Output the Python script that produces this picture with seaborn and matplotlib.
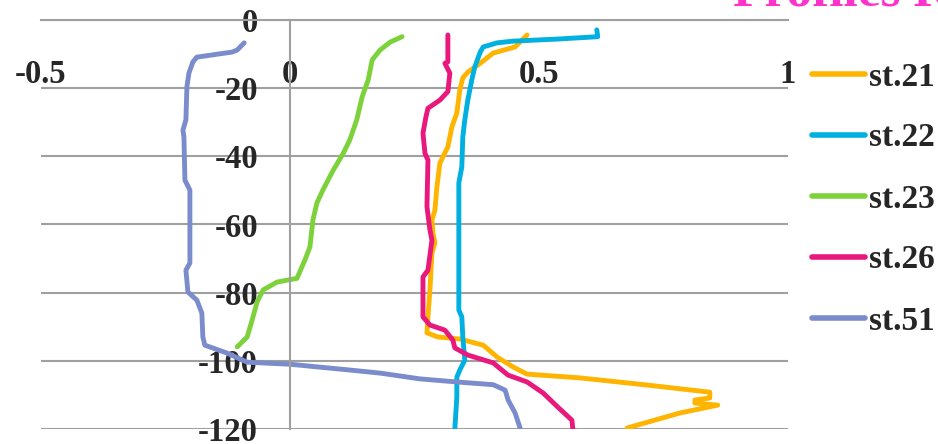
import matplotlib
matplotlib.use("Agg")
import matplotlib.pyplot as plt
import seaborn as sns
import pandas as pd

# Vertical profiles: value (x) against depth (m, negative downwards)
st21_x = [0.476, 0.452, 0.408, 0.382, 0.357, 0.347, 0.341, 0.335, 0.325, 0.317, 0.307, 0.301,
          0.295, 0.291, 0.285, 0.287, 0.291, 0.285, 0.281, 0.277, 0.275, 0.297, 0.341, 0.388,
          0.416, 0.448, 0.476, 0.582, 0.717, 0.843, 0.843, 0.813, 0.813, 0.859, 0.783, 0.677]
st21_d = [-4.4, -7.9, -9.7, -12.7, -15.3, -17.0, -20.5, -27.3, -31.4, -37.2, -40.2, -42.0,
          -49.0, -55.8, -58.7, -62.5, -65.4, -68.4, -79.2, -87.1, -91.8, -93.0, -93.6, -95.4,
          -98.9, -101.8, -103.9, -105.0, -107.1, -109.2, -110.9, -111.5, -112.4, -113.0, -115.3, -119.7]

st22_x = [0.616, 0.618, 0.536, 0.448, 0.416, 0.388, 0.382, 0.371, 0.365, 0.357, 0.351, 0.347,
          0.345, 0.339, 0.339, 0.339, 0.345, 0.347, 0.351, 0.341, 0.335, 0.335, 0.331]
st22_d = [-2.9, -4.9, -5.6, -6.2, -6.7, -7.9, -9.4, -13.8, -17.6, -23.5, -29.3, -34.3,
          -43.1, -47.8, -61.6, -85.1, -87.1, -93.0, -99.8, -102.7, -104.8, -110.6, -120.0]

st23_x = [0.225, 0.201, 0.181, 0.165, 0.157, 0.145, 0.134, 0.120, 0.107, 0.087, 0.066, 0.054,
          0.046, 0.040, 0.030, 0.014, -0.026, -0.054, -0.066, -0.076, -0.086, -0.106]
st23_d = [-4.9, -6.5, -8.8, -11.7, -17.6, -22.5, -29.3, -35.2, -39.1, -44.0, -49.9, -53.7,
          -58.7, -66.6, -70.4, -75.8, -76.9, -79.2, -82.7, -88.0, -93.0, -95.9]

st26_x = [0.317, 0.317, 0.311, 0.321, 0.317, 0.301, 0.277, 0.273, 0.267, 0.271, 0.277, 0.275,
          0.281, 0.285, 0.277, 0.267, 0.267, 0.281, 0.311, 0.327, 0.331, 0.357, 0.408, 0.438,
          0.476, 0.508, 0.538, 0.566, 0.568]
st26_d = [-4.4, -12.3, -12.7, -15.6, -21.0, -23.5, -25.9, -28.4, -33.2, -39.1, -41.1, -54.8,
          -61.6, -64.6, -73.4, -75.4, -87.1, -89.5, -91.0, -93.9, -96.2, -98.3, -100.6, -104.2,
          -106.2, -109.4, -113.6, -117.4, -120.0]

st51_x = [-0.092, -0.106, -0.116, -0.187, -0.195, -0.203, -0.207, -0.209, -0.215, -0.213, -0.211,
          -0.201, -0.201, -0.201, -0.209, -0.205, -0.187, -0.177, -0.175, -0.171, -0.127, -0.086,
          0.000, 0.120, 0.181, 0.261, 0.335, 0.408, 0.432, 0.438, 0.452, 0.462]
st51_d = [-6.7, -8.8, -9.4, -10.9, -12.3, -15.6, -19.6, -29.3, -32.3, -34.3, -47.0,
          -49.9, -61.6, -71.3, -73.4, -79.8, -82.2, -86.0, -93.0, -95.4, -97.7, -100.4,
          -101.0, -102.7, -103.6, -105.3, -106.2, -107.0, -108.6, -111.5, -115.3, -119.7]

stations = ["st.21", "st.22", "st.23", "st.26", "st.51"]
colors = ["#FFB400", "#00B0E0", "#7DD23C", "#E8187C", "#7A8CCB"]

x_ticks = [-0.5, 0, 0.5, 1]
x_tick_labels = ["-0.5", "0", "0.5", "1"]
y_ticks = [0, -20, -40, -60, -80, -100, -120]
y_tick_labels = ["0", "-20", "-40", "-60", "-80", "-100", "-120"]
title_text = "Profiles R"

series = {
    "st.21": (st21_x, st21_d),
    "st.22": (st22_x, st22_d),
    "st.23": (st23_x, st23_d),
    "st.26": (st26_x, st26_d),
    "st.51": (st51_x, st51_d),
}
frames = []
for name in stations:
    xs, ds = series[name]
    frames.append(pd.DataFrame({"value": xs, "depth": ds, "station": name}))
df = pd.concat(frames, ignore_index=True)

sns.set_style("white")
plt.rcParams["font.family"] = ["Liberation Serif", "DejaVu Serif"]
plt.rcParams["font.weight"] = "bold"

fig = plt.figure(figsize=(9.38, 4.44), dpi=100)
ax = fig.add_axes([41 / 938, 1 - 429 / 444, (788 - 41) / 938, (429 - 20) / 444])

grid_c = "#A0A0A0"

sns.lineplot(data=df, x="value", y="depth", hue="station", hue_order=stations,
             palette=dict(zip(stations, colors)), sort=False, estimator=None,
             linewidth=3.5, ax=ax, legend=True)
for ln in ax.get_lines():
    ln.set_solid_capstyle("round")
    ln.set_solid_joinstyle("round")

ax.set_xlim(-0.5, 1)
ax.set_ylim(-120, 0)
ax.set_xlabel("")
ax.set_ylabel("")

# axes cross at the origin, Excel style
for side in ["top", "right"]:
    ax.spines[side].set_visible(False)
ax.spines["left"].set_position(("data", 0))
ax.spines["bottom"].set_position(("data", 0))
for side in ["left", "bottom"]:
    ax.spines[side].set_color(grid_c)
    ax.spines[side].set_linewidth(1.5)

ax.set_xticks(x_ticks)
ax.set_xticklabels(x_tick_labels)
ax.set_yticks(y_ticks)
ax.set_yticklabels(y_tick_labels)
ax.tick_params(axis="x", direction="out", length=7, width=1.5, color=grid_c,
               labelsize=23.5, pad=21)
ax.tick_params(axis="y", length=0, labelsize=23.5, pad=23)
for lab in ax.get_xticklabels() + ax.get_yticklabels():
    lab.set_fontweight("bold")

ax.yaxis.grid(True, color=grid_c, linewidth=1.5)
ax.xaxis.grid(False)
ax.set_axisbelow(True)

handles, labels = ax.get_legend_handles_labels()
ax.legend(handles, labels, loc="center left", bbox_to_anchor=(812 / 938, 1 - 199 / 444),
          bbox_transform=fig.transFigure, frameon=False, borderpad=0, borderaxespad=0,
          handlelength=1.6, handletextpad=0.1, labelspacing=0.9,
          prop={"family": "Liberation Serif", "weight": "bold", "size": 24})
for ln in ax.get_legend().get_lines():
    ln.set_linewidth(4)
    ln.set_solid_capstyle("round")

fig.text(733 / 938, 1 - 6 / 444, title_text, color="#FF33CC", fontsize=37,
         fontweight="bold", ha="left", va="baseline")

fig.savefig("out.png", dpi=100)
